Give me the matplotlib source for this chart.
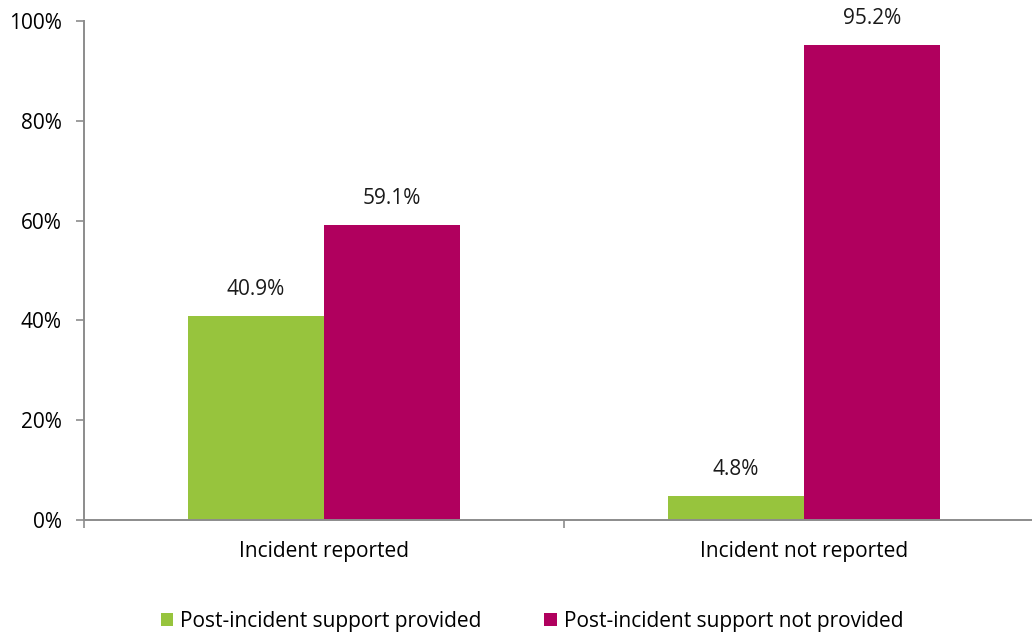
import matplotlib.pyplot as plt
import numpy as np

categories = ['Incident reported', 'Incident not reported']
support_provided = [40.9, 4.8]
support_not_provided = [59.1, 95.2]
series_labels = ['Post-incident support provided', 'Post-incident support not provided']
colors = ['#97C43D', '#B0005E']

plt.rcParams['font.family'] = ['Open Sans', 'DejaVu Sans']
fs = 15

fig = plt.figure(figsize=(10.32, 6.36), dpi=100)
ax = fig.add_axes([84 / 1032, 116 / 636, 960 / 1032, 499 / 636])

x = np.arange(len(categories))
w = 0.284
for offset, vals, lab, col in [(-w / 2, support_provided, series_labels[0], colors[0]),
                               (w / 2, support_not_provided, series_labels[1], colors[1])]:
    bars = ax.bar(x + offset, vals, w, color=col, label=lab, zorder=2)
    for b, v in zip(bars, vals):
        ax.annotate(f'{v:.1f}%', (b.get_x() + b.get_width() / 2, v),
                    xytext=(0, 11.5), textcoords='offset points',
                    ha='center', va='bottom', fontsize=fs, color='#1a1a1a')

ax.set_xlim(-0.5, 1.5)
ax.set_ylim(0, 100)
ax.set_yticks(range(0, 101, 20))
ax.set_yticklabels([f'{t}%' for t in range(0, 101, 20)], fontsize=fs)
ax.set_xticks(x)
ax.set_xticklabels(categories, fontsize=fs)
ax.tick_params(axis='x', length=0, pad=15)
ax.set_xticks([-0.5, 0.5, 1.5], minor=True)
ax.tick_params(axis='x', which='minor', length=6, color='#8c8c8c', width=1.2)
ax.tick_params(axis='y', length=6, color='#8c8c8c', width=1.2, pad=10)

for s in ['top', 'right']:
    ax.spines[s].set_visible(False)
for s in ['left', 'bottom']:
    ax.spines[s].set_color('#8c8c8c')
    ax.spines[s].set_linewidth(1.4)
    ax.spines[s].set_zorder(3)

fig.legend(loc='center', bbox_to_anchor=(532 / 1032, 1 - 621 / 636), ncol=2,
           frameon=False, fontsize=fs, handlelength=0.6, handleheight=0.6,
           handletextpad=0.35, columnspacing=3.0)

fig.savefig('out.png', dpi=100)
